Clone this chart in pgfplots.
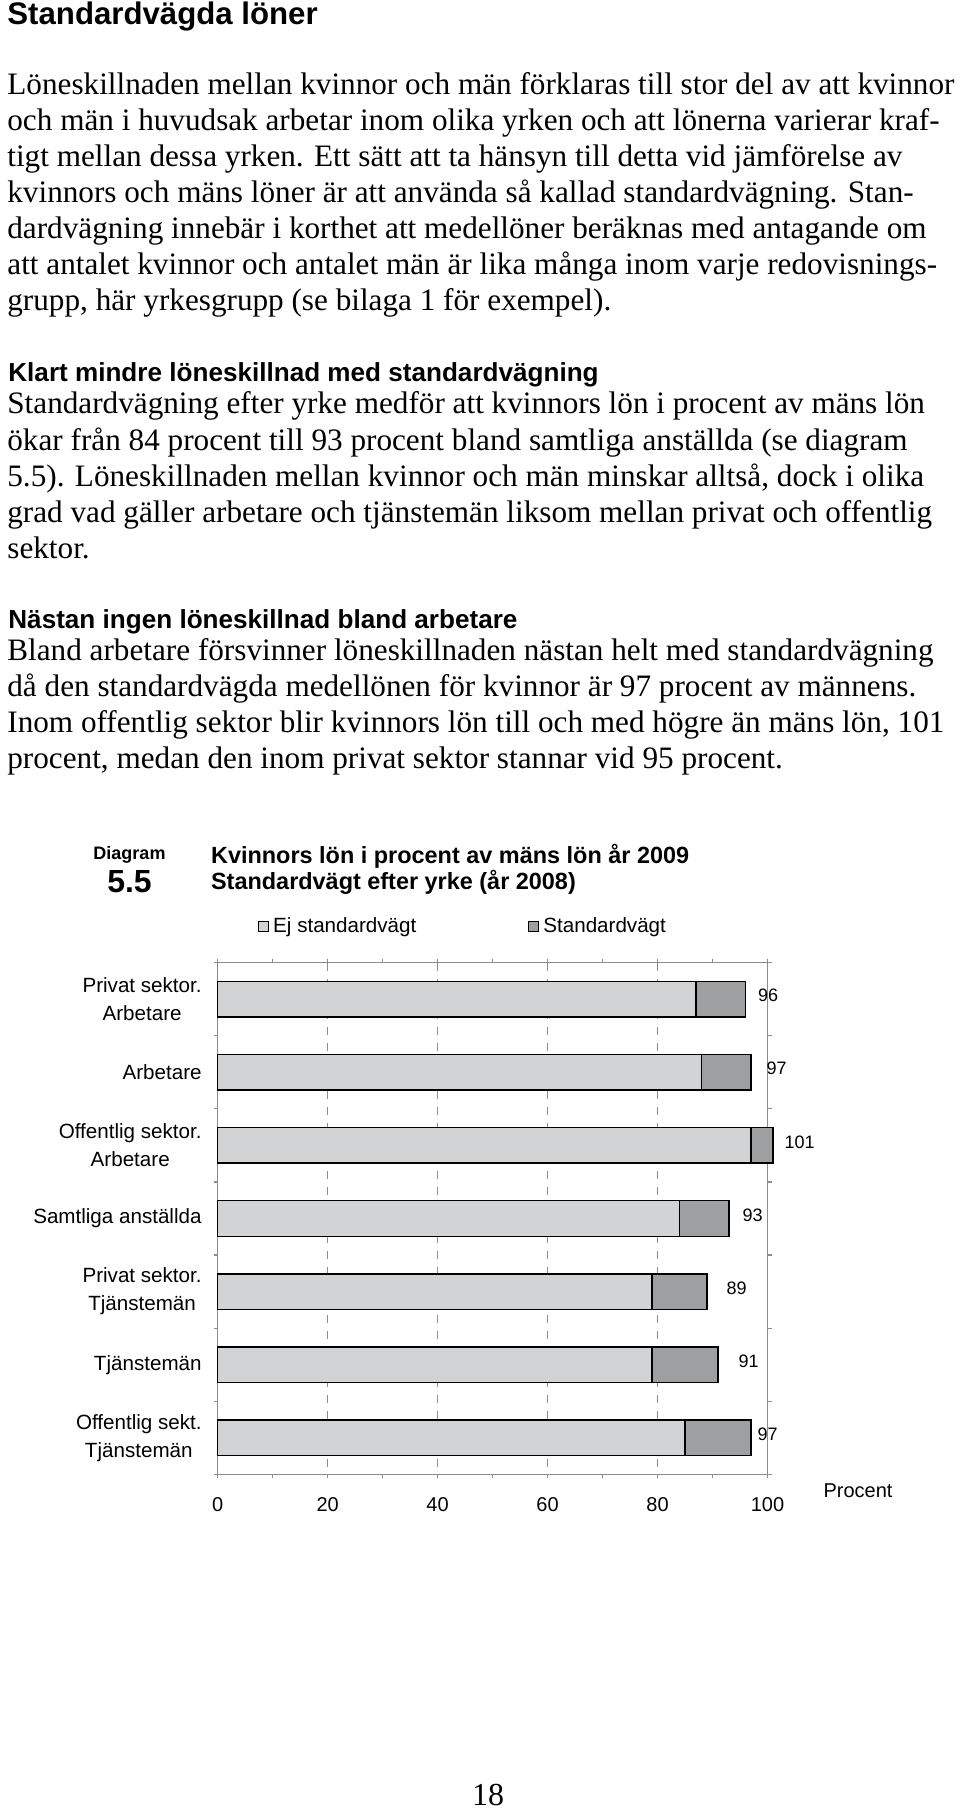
\documentclass[border=0pt]{standalone}
\usepackage{fontspec}
\setmainfont{Liberation Serif}
\setsansfont{Liberation Sans}
\usepackage{pgfplots}
\usepackage{pgfplotstable}
\pgfplotsset{compat=1.18}
\definecolor{lightbar}{RGB}{210,211,213}
\definecolor{darkbar}{RGB}{158,159,161}
\definecolor{axgray}{RGB}{140,140,140}

\pgfplotstableread{
cat ej std off
0 87 96 6
1 88 97 7.5
2 97 101 5.5
3 84 93 6.5
4 79 89 9.5
5 79 91 10
6 85 97 3
}\datatable

\newcommand\bodyf{\fontsize{15.6}{18}\selectfont}
\newcommand\hdf{\sffamily\bfseries\fontsize{13.05}{15}\selectfont}

\begin{document}
\begin{tikzpicture}
\path[use as bounding box] (0,0) rectangle (480pt,-904.5pt);
\begin{scope}[x=0.5pt,y=-0.5pt]
\tikzset{ln/.style={anchor=base west,inner sep=0pt,font=\bodyf}}
\node[anchor=base west,inner sep=0pt,font=\sffamily\bfseries\fontsize{15.6}{18}\selectfont] at (7,25) {Standardvägda löner};
\node[ln] at (7,94.5) {Löneskillnaden mellan kvinnor och män förklaras till stor del av att kvinnor};
\node[ln] at (7,130.5) {och män i huvudsak arbetar inom olika yrken och att lönerna varierar kraf-};
\node[ln] at (7,166.5) {tigt mellan dessa yrken. Ett sätt att ta hänsyn till detta vid jämförelse av};
\node[ln] at (7,202.5) {kvinnors och mäns löner är att använda så kallad standardvägning. Stan-};
\node[ln] at (7,238.5) {dardvägning innebär i korthet att medellöner beräknas med antagande om};
\node[ln] at (7,274.5) {att antalet kvinnor och antalet män är lika många inom varje redovisnings-};
\node[ln] at (7,310.5) {grupp, här yrkesgrupp (se bilaga 1 för exempel).};

\node[anchor=base west,inner sep=0pt,font=\hdf] at (8,381) {Klart mindre löneskillnad med standardvägning};
\node[ln] at (7,413.5) {Standardvägning efter yrke medför att kvinnors lön i procent av mäns lön};
\node[ln] at (7,450) {ökar från 84 procent till 93 procent bland samtliga anställda (se diagram};
\node[ln] at (7,486) {5.5). Löneskillnaden mellan kvinnor och män minskar alltså, dock i olika};
\node[ln] at (7,522.5) {grad vad gäller arbetare och tjänstemän liksom mellan privat och offentlig};
\node[ln] at (7,558.5) {sektor.};

\node[anchor=base west,inner sep=0pt,font=\hdf] at (8,628) {Nästan ingen löneskillnad bland arbetare};
\node[ln] at (7,660) {Bland arbetare försvinner löneskillnaden nästan helt med standardvägning};
\node[ln] at (7,696) {då den standardvägda medellönen för kvinnor är 97 procent av männens.};
\node[ln] at (7,732) {Inom offentlig sektor blir kvinnors lön till och med högre än mäns lön, 101};
\node[ln] at (7,768) {procent, medan den inom privat sektor stannar vid 95 procent.};

\node[anchor=base,inner sep=0pt,font=\sffamily\bfseries\fontsize{9}{10}\selectfont] at (129.5,859.3) {Diagram};
\node[anchor=base,inner sep=0pt,font=\sffamily\bfseries\fontsize{16}{18}\selectfont] at (129.5,892.7) {5.5};
\node[anchor=base west,inner sep=0pt,font=\sffamily\bfseries\fontsize{11.72}{14}\selectfont] at (210.7,863.3) {Kvinnors lön i procent av mäns lön år 2009};
\node[anchor=base west,inner sep=0pt,font=\sffamily\bfseries\fontsize{11.72}{14}\selectfont] at (210.7,889) {Standardvägt efter yrke (år 2008)};

\node[anchor=base,inner sep=0pt,font=\sffamily\fontsize{10}{12}\selectfont] at (858,1497) {Procent};
\node[anchor=base,inner sep=0pt,font=\fontsize{16}{18}\selectfont] at (488,1805) {18};
\end{scope}

\begin{axis}[
  at={(108.85pt,-481.35pt)}, anchor=north west,
  scale only axis, width=274.9pt, height=255.8pt,
  xmin=0, xmax=100, ymin=-0.5, ymax=6.5, y dir=reverse,
  clip=false,
  /pgf/number format/assume math mode=true,
  axis line style={axgray, line width=0.6pt},
  tick style={axgray, line width=0.6pt},
  tick align=outside, major tick length=2pt, minor tick length=2pt,
  xtick={0,20,40,60,80,100}, minor xtick={10,30,50,70,90},
  xmajorgrids,
  major grid style={axgray, line width=0.5pt, dash pattern=on 4pt off 4pt},
  xticklabel style={font=\sffamily\fontsize{10}{12}\selectfont, inner sep=0pt, yshift=-9.3pt},
  ytick={-0.5,0.5,1.5,2.5,3.5,4.5,5.5,6.5},
  yticklabel=\empty,
  extra y ticks={0,1,2,3,4,5,6},
  extra y tick labels={{Privat sektor.\\Arbetare},{Arbetare},{Offentlig sektor.\\Arbetare},{Samtliga anställda},{Privat sektor.\\Tjänstemän},{Tjänstemän},{Offentlig sekt.\\Tjänstemän}},
  extra y tick style={tick style={draw=none}},
  yticklabel style={font=\sffamily\fontsize{10.3}{14}\selectfont, align=center, inner sep=0pt, xshift=-5.85pt},
  legend columns=2,
  legend style={draw=none, fill=none, at={(axis cs:7.3,-0.995)}, anchor=west, inner sep=0pt,
    font=\sffamily\fontsize{10.3}{12}\selectfont,
    /tikz/every even column/.append style={column sep=54pt}},
  legend image code/.code={\draw[#1, draw=black, line width=0.5pt] (0pt,-2.5pt) rectangle (5pt,2.5pt);},
]
\addlegendimage{fill=lightbar}
\addlegendentry{Ej standardvägt}
\addlegendimage{fill=darkbar}
\addlegendentry{Standardvägt}

\addplot[forget plot, xbar, bar shift=0pt, bar width=17.75pt, fill=darkbar, draw=black, line width=0.7pt,
  nodes near coords,
  visualization depends on={\thisrow{off}\as\off},
  every node near coord/.append style={anchor=west, inner sep=0pt, xshift=\off pt, yshift=1.8pt,
     font=\sffamily\fontsize{9}{11}\selectfont, text=black}]
  table[x=std, y=cat]{\datatable};
\addplot[forget plot, xbar, bar shift=0pt, bar width=17.75pt, fill=lightbar, draw=black, line width=0.7pt]
  table[x=ej, y=cat]{\datatable};
\end{axis}
\end{tikzpicture}
\end{document}
